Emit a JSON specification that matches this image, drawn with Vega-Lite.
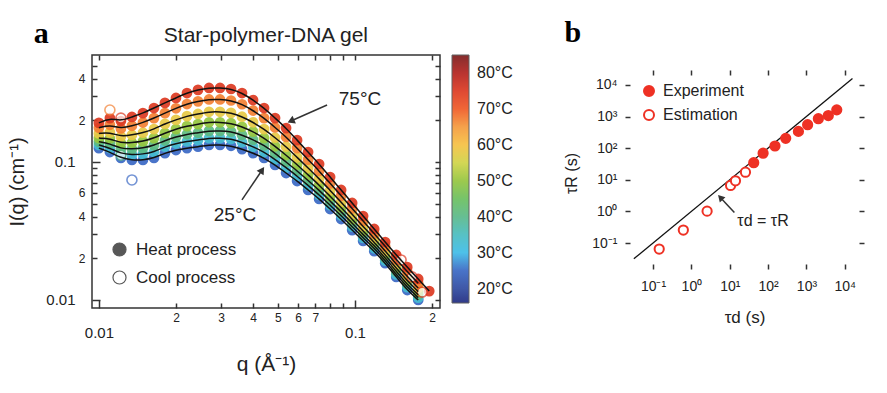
{
"$schema": "https://vega.github.io/schema/vega-lite/v6.json",
"padding": {"left": 7, "top": 18, "right": 5, "bottom": 5},
"columns": 2,
"align": "none",
"spacing": 49,
"resolve": {"scale": {"fill": "independent", "color": "independent", "stroke": "independent"}, "legend": {"fill": "independent", "color": "independent"}},
"config": {
  "font": "Liberation Sans",
  "view": {"stroke": "#333", "strokeWidth": 1.5},
  "axis": {"grid": false, "domain": false, "tickColor": "#333", "tickWidth": 1.5, "labelColor": "#222", "titleColor": "#222", "labelFont": "Liberation Sans", "titleFont": "Liberation Sans"},
  "legend": {"labelFont": "Liberation Sans", "labelColor": "#222", "padding": 0}
},
"datasets": {
  "heat": [
{"T":25,"q":0.01,"I":0.126},{"T":25,"q":0.01104,"I":0.118},{"T":25,"q":0.01219,"I":0.107},{"T":25,"q":0.01346,"I":0.1034},{"T":25,"q":0.01486,"I":0.1034},{"T":25,"q":0.01641,"I":0.107},{"T":25,"q":0.01811,"I":0.116},{"T":25,"q":0.02,"I":0.122},{"T":25,"q":0.02208,"I":0.126},{"T":25,"q":0.02438,"I":0.129},{"T":25,"q":0.02692,"I":0.133},{"T":25,"q":0.02972,"I":0.133},{"T":25,"q":0.03281,"I":0.131},{"T":25,"q":0.03622,"I":0.124},{"T":25,"q":0.04,"I":0.116},{"T":25,"q":0.04416,"I":0.107},{"T":25,"q":0.04875,"I":0.0951},{"T":25,"q":0.05383,"I":0.0832},{"T":25,"q":0.05943,"I":0.0728},{"T":25,"q":0.06561,"I":0.0627},{"T":25,"q":0.07244,"I":0.054},{"T":25,"q":0.07998,"I":0.0456},{"T":25,"q":0.0883,"I":0.0386},{"T":25,"q":0.0975,"I":0.0321},{"T":25,"q":0.1076,"I":0.0268},{"T":25,"q":0.1189,"I":0.0226},{"T":25,"q":0.1312,"I":0.0185},{"T":25,"q":0.1449,"I":0.0147},{"T":25,"q":0.16,"I":0.0118},{"T":25,"q":0.1766,"I":0.0100},
{"T":33,"q":0.01,"I":0.133},{"T":33,"q":0.01104,"I":0.126},{"T":33,"q":0.01219,"I":0.115},{"T":33,"q":0.01346,"I":0.113},{"T":33,"q":0.01486,"I":0.114},{"T":33,"q":0.01641,"I":0.118},{"T":33,"q":0.01811,"I":0.129},{"T":33,"q":0.02,"I":0.136},{"T":33,"q":0.02208,"I":0.141},{"T":33,"q":0.02438,"I":0.144},{"T":33,"q":0.02692,"I":0.149},{"T":33,"q":0.02972,"I":0.149},{"T":33,"q":0.03281,"I":0.147},{"T":33,"q":0.03622,"I":0.139},{"T":33,"q":0.04,"I":0.129},{"T":33,"q":0.04416,"I":0.118},{"T":33,"q":0.04875,"I":0.1045},{"T":33,"q":0.05383,"I":0.091},{"T":33,"q":0.05943,"I":0.0791},{"T":33,"q":0.06561,"I":0.0676},{"T":33,"q":0.07244,"I":0.0578},{"T":33,"q":0.07998,"I":0.0486},{"T":33,"q":0.0883,"I":0.0409},{"T":33,"q":0.0975,"I":0.034},{"T":33,"q":0.1076,"I":0.0282},{"T":33,"q":0.1189,"I":0.0237},{"T":33,"q":0.1312,"I":0.0193},{"T":33,"q":0.1449,"I":0.0153},{"T":33,"q":0.16,"I":0.0124},{"T":33,"q":0.1766,"I":0.0104},
{"T":41,"q":0.01,"I":0.14},{"T":41,"q":0.01104,"I":0.136},{"T":41,"q":0.01219,"I":0.125},{"T":41,"q":0.01346,"I":0.124},{"T":41,"q":0.01486,"I":0.126},{"T":41,"q":0.01641,"I":0.132},{"T":41,"q":0.01811,"I":0.143},{"T":41,"q":0.02,"I":0.152},{"T":41,"q":0.02208,"I":0.159},{"T":41,"q":0.02438,"I":0.163},{"T":41,"q":0.02692,"I":0.168},{"T":41,"q":0.02972,"I":0.168},{"T":41,"q":0.03281,"I":0.166},{"T":41,"q":0.03622,"I":0.157},{"T":41,"q":0.04,"I":0.145},{"T":41,"q":0.04416,"I":0.132},{"T":41,"q":0.04875,"I":0.116},{"T":41,"q":0.05383,"I":0.1},{"T":41,"q":0.05943,"I":0.0863},{"T":41,"q":0.06561,"I":0.0735},{"T":41,"q":0.07244,"I":0.0624},{"T":41,"q":0.07998,"I":0.0521},{"T":41,"q":0.0883,"I":0.0436},{"T":41,"q":0.0975,"I":0.036},{"T":41,"q":0.1076,"I":0.0297},{"T":41,"q":0.1189,"I":0.0248},{"T":41,"q":0.1312,"I":0.0202},{"T":41,"q":0.1449,"I":0.0161},{"T":41,"q":0.16,"I":0.013},{"T":41,"q":0.1766,"I":0.0109},
{"T":50,"q":0.01,"I":0.149},{"T":50,"q":0.01104,"I":0.148},{"T":50,"q":0.01219,"I":0.137},{"T":50,"q":0.01346,"I":0.138},{"T":50,"q":0.01486,"I":0.141},{"T":50,"q":0.01641,"I":0.149},{"T":50,"q":0.01811,"I":0.162},{"T":50,"q":0.02,"I":0.173},{"T":50,"q":0.02208,"I":0.182},{"T":50,"q":0.02438,"I":0.188},{"T":50,"q":0.02692,"I":0.194},{"T":50,"q":0.02972,"I":0.194},{"T":50,"q":0.03281,"I":0.191},{"T":50,"q":0.03622,"I":0.18},{"T":50,"q":0.04,"I":0.166},{"T":50,"q":0.04416,"I":0.149},{"T":50,"q":0.04875,"I":0.13},{"T":50,"q":0.05383,"I":0.112},{"T":50,"q":0.05943,"I":0.0957},{"T":50,"q":0.06561,"I":0.0807},{"T":50,"q":0.07244,"I":0.0681},{"T":50,"q":0.07998,"I":0.0565},{"T":50,"q":0.0883,"I":0.0469},{"T":50,"q":0.0975,"I":0.0385},{"T":50,"q":0.1076,"I":0.0316},{"T":50,"q":0.1189,"I":0.0262},{"T":50,"q":0.1312,"I":0.0213},{"T":50,"q":0.1449,"I":0.017},{"T":50,"q":0.16,"I":0.0138},{"T":50,"q":0.1766,"I":0.0115},
{"T":58,"q":0.01,"I":0.161},{"T":58,"q":0.01104,"I":0.164},{"T":58,"q":0.01219,"I":0.153},{"T":58,"q":0.01346,"I":0.157},{"T":58,"q":0.01486,"I":0.163},{"T":58,"q":0.01641,"I":0.173},{"T":58,"q":0.01811,"I":0.189},{"T":58,"q":0.02,"I":0.202},{"T":58,"q":0.02208,"I":0.215},{"T":58,"q":0.02438,"I":0.223},{"T":58,"q":0.02692,"I":0.231},{"T":58,"q":0.02972,"I":0.231},{"T":58,"q":0.03281,"I":0.227},{"T":58,"q":0.03622,"I":0.213},{"T":58,"q":0.04,"I":0.194},{"T":58,"q":0.04416,"I":0.173},{"T":58,"q":0.04875,"I":0.15},{"T":58,"q":0.05383,"I":0.129},{"T":58,"q":0.05943,"I":0.108},{"T":58,"q":0.06561,"I":0.0905},{"T":58,"q":0.07244,"I":0.0757},{"T":58,"q":0.07998,"I":0.0622},{"T":58,"q":0.0883,"I":0.0512},{"T":58,"q":0.0975,"I":0.0418},{"T":58,"q":0.1076,"I":0.0341},{"T":58,"q":0.1189,"I":0.028},{"T":58,"q":0.1312,"I":0.0227},{"T":58,"q":0.1449,"I":0.0182},{"T":58,"q":0.16,"I":0.0148},{"T":58,"q":0.1766,"I":0.0122},
{"T":67,"q":0.01,"I":0.177},{"T":67,"q":0.01104,"I":0.186},{"T":67,"q":0.01219,"I":0.175},{"T":67,"q":0.01346,"I":0.183},{"T":67,"q":0.01486,"I":0.193},{"T":67,"q":0.01641,"I":0.208},{"T":67,"q":0.01811,"I":0.226},{"T":67,"q":0.02,"I":0.245},{"T":67,"q":0.02208,"I":0.263},{"T":67,"q":0.02438,"I":0.275},{"T":67,"q":0.02692,"I":0.284},{"T":67,"q":0.02972,"I":0.284},{"T":67,"q":0.03281,"I":0.279},{"T":67,"q":0.03622,"I":0.262},{"T":67,"q":0.04,"I":0.236},{"T":67,"q":0.04416,"I":0.208},{"T":67,"q":0.04875,"I":0.178},{"T":67,"q":0.05383,"I":0.152},{"T":67,"q":0.05943,"I":0.126},{"T":67,"q":0.06561,"I":0.104},{"T":67,"q":0.07244,"I":0.0861},{"T":67,"q":0.07998,"I":0.07},{"T":67,"q":0.0883,"I":0.0569},{"T":67,"q":0.0975,"I":0.0461},{"T":67,"q":0.1076,"I":0.0374},{"T":67,"q":0.1189,"I":0.0303},{"T":67,"q":0.1312,"I":0.0245},{"T":67,"q":0.1449,"I":0.0197},{"T":67,"q":0.16,"I":0.0161},{"T":67,"q":0.1766,"I":0.0132},
{"T":75,"q":0.01,"I":0.192},{"T":75,"q":0.01104,"I":0.208},{"T":75,"q":0.01219,"I":0.198},{"T":75,"q":0.01346,"I":0.212},{"T":75,"q":0.01486,"I":0.226},{"T":75,"q":0.01641,"I":0.246},{"T":75,"q":0.01811,"I":0.268},{"T":75,"q":0.02,"I":0.291},{"T":75,"q":0.02208,"I":0.316},{"T":75,"q":0.02438,"I":0.333},{"T":75,"q":0.02692,"I":0.344},{"T":75,"q":0.02972,"I":0.344},{"T":75,"q":0.03281,"I":0.338},{"T":75,"q":0.03622,"I":0.316},{"T":75,"q":0.04,"I":0.281},{"T":75,"q":0.04416,"I":0.246},{"T":75,"q":0.04875,"I":0.208},{"T":75,"q":0.05383,"I":0.176},{"T":75,"q":0.05943,"I":0.144},{"T":75,"q":0.06561,"I":0.118},{"T":75,"q":0.07244,"I":0.0967},{"T":75,"q":0.07998,"I":0.0778},{"T":75,"q":0.0883,"I":0.0627},{"T":75,"q":0.0975,"I":0.0505},{"T":75,"q":0.1076,"I":0.0406},{"T":75,"q":0.1189,"I":0.0327},{"T":75,"q":0.1312,"I":0.0263},{"T":75,"q":0.1449,"I":0.0212},{"T":75,"q":0.16,"I":0.0173},{"T":75,"q":0.1766,"I":0.0142},{"T":75,"q":0.195,"I":0.0116}
  ],
  "cool": [
{"T":25,"q":0.01346,"I":0.0741},{"T":41,"q":0.01219,"I":0.112},{"T":67,"q":0.01104,"I":0.238},{"T":75,"q":0.01219,"I":0.208},{"T":75,"q":0.1514,"I":0.0195},{"T":75,"q":0.167,"I":0.0147},{"T":75,"q":0.183,"I":0.0114}
  ],
  "exp": [
{"td":42.2,"tr":34.7},{"td":74.1,"tr":69.2},{"td":151,"tr":117},{"td":288,"tr":204},{"td":617,"tr":339},{"td":1072,"tr":550},{"td":2042,"tr":851},{"td":3715,"tr":1072},{"td":6166,"tr":1622}
  ],
  "est": [
{"td":0.145,"tr":0.0646},{"td":0.617,"tr":0.257},{"td":2.57,"tr":1.02},{"td":10.5,"tr":6.6},{"td":14.1,"tr":9.3},{"td":25.7,"tr":17.4}
  ]
},
"concat": [
{
  "width": 348, "height": 253,
  "resolve": {"axis": {"x": "independent", "y": "independent"}},
  "layer": [
    {
      "data": {"name": "heat"},
      "mark": {"type": "point", "filled": true, "size": 115, "opacity": 0.92},
      "encoding": {
        "x": {"field": "q", "type": "quantitative", "scale": {"type": "log", "domain": [0.0094, 0.2148], "nice": false},
          "axis": {"orient": "bottom", "values": [0.02,0.03,0.04,0.05,0.06,0.07,0.08,0.09,0.2], "labelExpr": "datum.value > 0.075 && datum.value < 0.1 ? '' : format(datum.value * (datum.value < 0.1 ? 100 : 10), '.0f')", "labelFontSize": 12, "labelPadding": 9, "tickSize": -5, "title": null}},
        "y": {"field": "I", "type": "quantitative", "scale": {"type": "log", "domain": [0.00875, 0.596], "nice": false},
          "axis": {"orient": "left", "values": [0.02,0.03,0.04,0.05,0.06,0.07,0.08,0.09,0.2,0.3,0.4,0.5], "labelExpr": "datum.value == 0.02 || datum.value == 0.2 ? '2' : datum.value == 0.04 || datum.value == 0.4 ? '4' : datum.value == 0.06 ? '6' : ''", "labelFontSize": 12, "labelPadding": 12, "tickSize": -5, "title": null}},
        "color": {"field": "T", "type": "quantitative",
          "scale": {"domain": [16,20,25,30,35,40,45,50,55,60,65,70,75,80,85], "range": ["#1f2a80","#2f4aa0","#3a68c4","#3fbce8","#49bcc0","#5ab98a","#6bbf5e","#95c53f","#d0d447","#f6c143","#f59a3c","#ef5a26","#dc3a22","#b3231f","#7b1c1c"], "interpolate": "rgb"},
          "legend": {"type": "gradient", "orient": "none", "legendX": 360, "legendY": 0, "direction": "vertical", "gradientLength": 248, "gradientThickness": 17, "title": null, "values": [20,30,40,50,60,70,80], "labelExpr": "datum.label + '°C'", "labelFontSize": 16, "labelOffset": 8, "gradientStrokeColor": "#555", "gradientStrokeWidth": 1, "labelOverlap": false}}
      }
    },
    {
      "data": {"name": "cool"},
      "mark": {"type": "point", "filled": true, "size": 100, "strokeWidth": 1.6},
      "encoding": {
        "x": {"field": "q", "type": "quantitative", "scale": {"type": "log", "domain": [0.0094, 0.2148], "nice": false},
          "axis": {"orient": "top", "values": [0.01,0.02,0.03,0.04,0.05,0.06,0.07,0.08,0.09,0.1,0.2], "labels": false, "tickSize": -5, "title": null}},
        "y": {"field": "I", "type": "quantitative", "scale": {"type": "log", "domain": [0.00875, 0.596], "nice": false},
          "axis": {"orient": "right", "values": [0.01,0.02,0.03,0.04,0.05,0.06,0.07,0.08,0.09,0.1,0.2,0.3,0.4,0.5], "labels": false, "tickSize": -5, "title": null}},
        "stroke": {"field": "T", "type": "quantitative", "legend": null,
          "scale": {"domain": [15.99,20,25,30,35,40,45,50,55,60,65,70,75,80,85.01], "range": ["#1f2a80","#2f4aa0","#3a68c4","#3fbce8","#49bcc0","#5ab98a","#6bbf5e","#95c53f","#d0d447","#f6c143","#f59a3c","#ef5a26","#dc3a22","#b3231f","#7b1c1c"], "interpolate": "rgb"}},
        "fill": {"datum": "Cool process", "scale": {"domain": ["Heat process", "Cool process"], "range": ["#111", "white"]},
          "legend": {"orient": "none", "legendX": 19, "legendY": 186, "title": null, "symbolType": "circle", "symbolSize": 170, "labelFontSize": 17, "rowPadding": 9, "labelOffset": 8, "symbolStrokeColor": "#111", "symbolStrokeWidth": 1.2}}
      }
    },
    {
      "data": {"name": "heat"},
      "mark": {"type": "line", "color": "#111", "strokeWidth": 1.5, "interpolate": "basis"},
      "encoding": {
        "x": {"field": "q", "type": "quantitative", "scale": {"type": "log", "domain": [0.0094, 0.2148], "nice": false},
          "axis": {"orient": "bottom", "values": [0.01, 0.1], "labelExpr": "datum.value < 0.05 ? '0.01' : '0.1'", "labelFontSize": 15, "labelPadding": 25, "tickSize": -8, "title": "q (Å⁻¹)", "titleFontSize": 21, "titleFontWeight": "normal", "titlePadding": 13}},
        "y": {"field": "I", "type": "quantitative", "scale": {"type": "log", "domain": [0.00875, 0.596], "nice": false},
          "axis": {"orient": "left", "values": [0.01, 0.1], "labelExpr": "datum.value < 0.05 ? '0.01' : '0.1'", "labelFontSize": 15, "labelPadding": 25, "tickSize": -8, "title": "I(q) (cm⁻¹)", "titleFontSize": 20, "titleFontWeight": "normal", "titlePadding": 18}},
        "detail": {"field": "T", "type": "nominal"}
      }
    },
    {
      "data": {"values": [{"q": 0.0778, "I": 0.259, "q2": 0.0562, "I2": 0.198}, {"q": 0.0362, "I": 0.0531, "q2": 0.0434, "I2": 0.0875}]},
      "mark": {"type": "rule", "color": "#333", "strokeWidth": 1.5},
      "encoding": {
        "x": {"field": "q", "type": "quantitative", "axis": null}, "x2": {"field": "q2"},
        "y": {"field": "I", "type": "quantitative", "axis": null}, "y2": {"field": "I2"}
      }
    },
    {
      "data": {"values": [{"q": 0.0562, "I": 0.198}]},
      "mark": {"type": "point", "shape": "triangle-up", "filled": true, "color": "#333", "size": 70, "angle": 246, "opacity": 1},
      "encoding": {"x": {"field": "q", "type": "quantitative", "axis": null}, "y": {"field": "I", "type": "quantitative", "axis": null}}
    },
    {
      "data": {"values": [{"q": 0.0434, "I": 0.0875}]},
      "mark": {"type": "point", "shape": "triangle-up", "filled": true, "color": "#333", "size": 70, "angle": 34, "opacity": 1},
      "encoding": {"x": {"field": "q", "type": "quantitative", "axis": null}, "y": {"field": "I", "type": "quantitative", "axis": null}}
    },
    {
      "data": {"values": [{"label": "75°C", "q": 0.1046, "I": 0.286}, {"label": "25°C", "q": 0.034, "I": 0.0413}]},
      "mark": {"type": "text", "fontSize": 19, "color": "#222", "align": "center", "baseline": "middle"},
      "encoding": {"x": {"field": "q", "type": "quantitative", "axis": null}, "y": {"field": "I", "type": "quantitative", "axis": null}, "text": {"field": "label"}}
    },
    {
      "data": {"values": [{"label": "Star-polymer-DNA gel", "q": 0.0449, "I": 0.741}]},
      "mark": {"type": "text", "fontSize": 21, "color": "#222", "align": "center", "baseline": "alphabetic"},
      "encoding": {"x": {"field": "q", "type": "quantitative", "axis": null}, "y": {"field": "I", "type": "quantitative", "axis": null}, "text": {"field": "label"}}
    },
    {
      "data": {"values": [{"label": "a", "q": 0.00557, "I": 0.728}]},
      "mark": {"type": "text", "font": "Liberation Serif", "fontWeight": "bold", "fontSize": 30, "color": "#000", "align": "left", "baseline": "alphabetic"},
      "encoding": {"x": {"field": "q", "type": "quantitative", "axis": null}, "y": {"field": "I", "type": "quantitative", "axis": null}, "text": {"field": "label"}}
    }
  ]
},
{
  "width": 239, "height": 214,
  "view": {"stroke": null},
  "resolve": {"axis": {"x": "independent", "y": "independent"}},
  "layer": [
    {
      "data": {"values": [{"td": 0.0316, "tr": 0.0316}, {"td": 15849, "tr": 15849}]},
      "mark": {"type": "line", "color": "#111", "strokeWidth": 1.3},
      "encoding": {
        "x": {"field": "td", "type": "quantitative", "scale": {"type": "log", "domain": [0.0186, 31623], "nice": false},
          "axis": {"orient": "bottom", "values": [0.1,1,10,100,1000,10000], "labelExpr": "datum.value < 0.5 ? '10⁻¹' : datum.value < 5 ? '10⁰' : datum.value < 50 ? '10¹' : datum.value < 500 ? '10²' : datum.value < 5000 ? '10³' : '10⁴'", "labelFontSize": 14, "labelPadding": 15, "tickSize": -5, "title": "τd (s)", "titleFontSize": 17, "titleFontWeight": "normal", "titlePadding": 16}},
        "y": {"field": "tr", "type": "quantitative", "scale": {"type": "log", "domain": [0.0151, 88100], "nice": false},
          "axis": {"orient": "left", "values": [0.1,1,10,100,1000,10000], "labelExpr": "datum.value < 0.5 ? '10⁻¹' : datum.value < 5 ? '10⁰' : datum.value < 50 ? '10¹' : datum.value < 500 ? '10²' : datum.value < 5000 ? '10³' : '10⁴'", "labelFontSize": 14, "labelPadding": 13, "tickSize": -5, "title": "τR (s)", "titleFontSize": 16, "titleFontWeight": "normal", "titlePadding": 12, "titleY": 118}}
      }
    },
    {
      "data": {"name": "exp"},
      "mark": {"type": "point", "filled": true, "size": 85, "stroke": "#ee3124", "strokeWidth": 2, "opacity": 1},
      "encoding": {
        "x": {"field": "td", "type": "quantitative", "scale": {"type": "log", "domain": [0.0186, 31623], "nice": false},
          "axis": {"orient": "top", "offset": -15, "values": [0.1,1,10,100,1000,10000], "labels": false, "tickSize": -5, "title": null}},
        "y": {"field": "tr", "type": "quantitative", "scale": {"type": "log", "domain": [0.0151, 88100], "nice": false},
          "axis": {"orient": "right", "values": [0.1,1,10,100,1000,10000], "labels": false, "tickSize": -5, "title": null}},
        "fill": {"datum": "Experiment", "scale": {"domain": ["Experiment", "Estimation"], "range": ["#ee3124", "white"]},
          "legend": {"orient": "none", "legendX": 16, "legendY": 28, "title": null, "symbolType": "circle", "symbolSize": 100, "labelFontSize": 16, "rowPadding": 6, "labelOffset": 6, "symbolStrokeColor": "#ee3124", "symbolStrokeWidth": 2}}
      }
    },
    {
      "data": {"name": "est"},
      "mark": {"type": "point", "filled": true, "size": 85, "stroke": "#ee3124", "strokeWidth": 2, "opacity": 1},
      "encoding": {
        "x": {"field": "td", "type": "quantitative", "axis": null},
        "y": {"field": "tr", "type": "quantitative", "axis": null},
        "fill": {"datum": "Estimation"}
      }
    },
    {
      "mark": {"type": "rule", "color": "#333", "strokeWidth": 1.5},
      "encoding": {"x": {"datum": 0.0186, "type": "quantitative", "axis": null}, "x2": {"datum": 31623}, "y": {"datum": 29512, "type": "quantitative", "axis": null}}
    },
    {
      "mark": {"type": "rule", "color": "#333", "strokeWidth": 1.5},
      "encoding": {"x": {"datum": 0.0186, "type": "quantitative", "axis": null}, "x2": {"datum": 31623}, "y": {"datum": 0.0151, "type": "quantitative", "axis": null}}
    },
    {
      "mark": {"type": "rule", "color": "#333", "strokeWidth": 1.5},
      "encoding": {"x": {"datum": 0.0186, "type": "quantitative", "axis": null}, "y": {"datum": 0.0151, "type": "quantitative", "axis": null}, "y2": {"datum": 29512}}
    },
    {
      "mark": {"type": "rule", "color": "#333", "strokeWidth": 1.5},
      "encoding": {"x": {"datum": 31623, "type": "quantitative", "axis": null}, "y": {"datum": 0.0151, "type": "quantitative", "axis": null}, "y2": {"datum": 29512}}
    },
    {
      "data": {"values": [{"td": 13.2, "tr": 0.93, "td2": 5.69, "tr2": 2.77}]},
      "mark": {"type": "rule", "color": "#333", "strokeWidth": 1.5},
      "encoding": {"x": {"field": "td", "type": "quantitative", "axis": null}, "x2": {"field": "td2"}, "y": {"field": "tr", "type": "quantitative", "axis": null}, "y2": {"field": "tr2"}}
    },
    {
      "data": {"values": [{"td": 5.69, "tr": 2.77}]},
      "mark": {"type": "point", "shape": "triangle-up", "filled": true, "color": "#333", "size": 60, "angle": 317, "opacity": 1},
      "encoding": {"x": {"field": "td", "type": "quantitative", "axis": null}, "y": {"field": "tr", "type": "quantitative", "axis": null}}
    },
    {
      "data": {"values": [{"label": "τd = τR", "td": 15.8, "tr": 0.483}]},
      "mark": {"type": "text", "fontSize": 16, "color": "#222", "align": "left", "baseline": "middle"},
      "encoding": {"x": {"field": "td", "type": "quantitative", "axis": null}, "y": {"field": "tr", "type": "quantitative", "axis": null}, "text": {"field": "label"}}
    },
    {
      "data": {"values": [{"label": "b", "td": 0.000493, "tr": 222800}]},
      "mark": {"type": "text", "font": "Liberation Serif", "fontWeight": "bold", "fontSize": 30, "color": "#000", "align": "left", "baseline": "alphabetic"},
      "encoding": {"x": {"field": "td", "type": "quantitative", "axis": null}, "y": {"field": "tr", "type": "quantitative", "axis": null}, "text": {"field": "label"}}
    }
  ]
}
]
}
